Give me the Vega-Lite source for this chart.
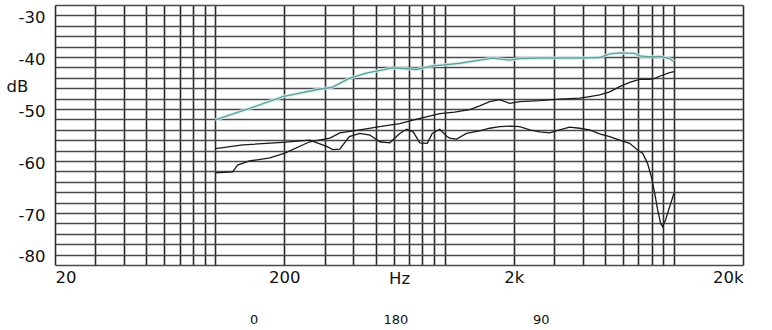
{
  "$schema": "https://vega.github.io/schema/vega-lite/v6.json",
  "width": 688,
  "height": 260,
  "autosize": {"type": "none"},
  "padding": {"left": 55, "top": 5, "right": 29, "bottom": 65},
  "background": "white",
  "config": {"view": {"stroke": null}, "font": "DejaVu Sans"},
  "data": {"values": [
    {"s":"0","f":100,"db":-52.1},{"s":"0","f":141,"db":-49.9},{"s":"0","f":197,"db":-47.6},{"s":"0","f":276,"db":-46.3},{"s":"0","f":325,"db":-45.8},{"s":"0","f":384,"db":-44.1},{"s":"0","f":455,"db":-43.1},{"s":"0","f":594,"db":-42.1},{"s":"0","f":754,"db":-42.4},{"s":"0","f":883,"db":-41.7},{"s":"0","f":1000,"db":-41.5},{"s":"0","f":1163,"db":-41.2},{"s":"0","f":1422,"db":-40.6},{"s":"0","f":1616,"db":-40.2},{"s":"0","f":1922,"db":-40.6},{"s":"0","f":2125,"db":-40.3},{"s":"0","f":2597,"db":-40.2},{"s":"0","f":3173,"db":-40.2},{"s":"0","f":3879,"db":-40.2},{"s":"0","f":4742,"db":-40.1},{"s":"0","f":5243,"db":-39.4},{"s":"0","f":5796,"db":-39.2},{"s":"0","f":6738,"db":-39.3},{"s":"0","f":7085,"db":-39.8},{"s":"0","f":7833,"db":-40.0},{"s":"0","f":8662,"db":-39.9},{"s":"0","f":9577,"db":-40.3},{"s":"0","f":10000,"db":-40.9},
    {"s":"90","f":100,"db":-62.3},{"s":"90","f":119,"db":-62.1},{"s":"90","f":125,"db":-60.8},{"s":"90","f":141,"db":-60.0},{"s":"90","f":173,"db":-59.4},{"s":"90","f":201,"db":-58.5},{"s":"90","f":258,"db":-56.3},{"s":"90","f":316,"db":-55.6},{"s":"90","f":349,"db":-54.6},{"s":"90","f":427,"db":-54.0},{"s":"90","f":521,"db":-53.4},{"s":"90","f":637,"db":-52.8},{"s":"90","f":780,"db":-51.8},{"s":"90","f":952,"db":-50.9},{"s":"90","f":1106,"db":-50.6},{"s":"90","f":1286,"db":-50.1},{"s":"90","f":1422,"db":-49.4},{"s":"90","f":1572,"db":-48.6},{"s":"90","f":1738,"db":-48.2},{"s":"90","f":1922,"db":-48.9},{"s":"90","f":2125,"db":-48.6},{"s":"90","f":2597,"db":-48.4},{"s":"90","f":3173,"db":-48.1},{"s":"90","f":3879,"db":-47.9},{"s":"90","f":4289,"db":-47.6},{"s":"90","f":4742,"db":-47.3},{"s":"90","f":5243,"db":-46.7},{"s":"90","f":5796,"db":-45.7},{"s":"90","f":6408,"db":-44.9},{"s":"90","f":7085,"db":-44.3},{"s":"90","f":7833,"db":-44.3},{"s":"90","f":8239,"db":-44.1},{"s":"90","f":8662,"db":-43.7},{"s":"90","f":9577,"db":-43.0},{"s":"90","f":10000,"db":-42.8},
    {"s":"180","f":100,"db":-57.6},{"s":"180","f":132,"db":-56.9},{"s":"180","f":197,"db":-56.4},{"s":"180","f":258,"db":-56.0},{"s":"180","f":306,"db":-57.2},{"s":"180","f":325,"db":-57.8},{"s":"180","f":349,"db":-57.7},{"s":"180","f":384,"db":-55.3},{"s":"180","f":427,"db":-54.7},{"s":"180","f":472,"db":-55.0},{"s":"180","f":521,"db":-56.3},{"s":"180","f":577,"db":-56.5},{"s":"180","f":637,"db":-54.7},{"s":"180","f":683,"db":-53.9},{"s":"180","f":729,"db":-54.4},{"s":"180","f":780,"db":-56.5},{"s":"180","f":840,"db":-56.6},{"s":"180","f":883,"db":-54.7},{"s":"180","f":952,"db":-53.9},{"s":"180","f":1024,"db":-55.3},{"s":"180","f":1052,"db":-55.6},{"s":"180","f":1128,"db":-55.8},{"s":"180","f":1245,"db":-54.7},{"s":"180","f":1422,"db":-54.2},{"s":"180","f":1572,"db":-53.7},{"s":"180","f":1738,"db":-53.4},{"s":"180","f":1922,"db":-53.3},{"s":"180","f":2125,"db":-53.4},{"s":"180","f":2350,"db":-54.0},{"s":"180","f":2597,"db":-54.4},{"s":"180","f":2872,"db":-54.6},{"s":"180","f":3173,"db":-54.0},{"s":"180","f":3509,"db":-53.5},{"s":"180","f":3879,"db":-53.7},{"s":"180","f":4289,"db":-54.0},{"s":"180","f":4742,"db":-54.8},{"s":"180","f":5243,"db":-55.3},{"s":"180","f":5796,"db":-56.0},{"s":"180","f":6408,"db":-56.6},{"s":"180","f":6942,"db":-57.9},{"s":"180","f":7300,"db":-58.5},{"s":"180","f":7676,"db":-60.5},{"s":"180","f":7996,"db":-63.3},{"s":"180","f":8239,"db":-66.2},{"s":"180","f":8489,"db":-69.4},{"s":"180","f":8750,"db":-72.0},{"s":"180","f":8927,"db":-72.6},{"s":"180","f":9198,"db":-71.3},{"s":"180","f":9577,"db":-68.8},{"s":"180","f":10000,"db":-66.2}
  ]},
  "encoding": {
    "x": {
      "field": "f", "type": "quantitative",
      "scale": {"type": "log", "domain": [20, 20000], "nice": false},
      "axis": {
        "values": [20,30,40,50,60,70,80,90,100,200,300,400,500,600,700,800,900,1000,2000,3000,4000,5000,6000,7000,8000,9000,10000,20000],
        "labelExpr": "datum.value == 20 ? '20' : datum.value == 200 ? '200' : datum.value == 2000 ? '2k' : datum.value == 20000 ? '20k' : ''",
        "grid": true, "gridColor": "#2a2a2a", "gridWidth": 1.6, "gridOpacity": 1,
        "domain": false, "ticks": false,
        "labelFlush": true, "labelOverlap": false, "labelAngle": 0,
        "labelFontSize": 16.5, "labelColor": "#111", "labelPadding": 4, "labelFont": "DejaVu Sans",
        "title": "Hz", "titleX": 344, "titleY": 13, "titleBaseline": "middle", "titleAlign": "center",
        "titleFontWeight": "normal", "titleFontSize": 16.5, "titleColor": "#111", "titleFont": "DejaVu Sans"
      }
    },
    "y": {
      "field": "db", "type": "quantitative",
      "scale": {"domain": [-80, -30], "nice": false, "zero": false},
      "axis": {
        "values": [-80,-78,-76,-74,-72,-70,-68,-66,-64,-62,-60,-58,-56,-54,-52,-50,-48,-46,-44,-42,-40,-38,-36,-34,-32,-30],
        "labelExpr": "datum.value % 10 == 0 ? '' + datum.value : ''",
        "grid": true, "gridColor": "#4a4a4a", "gridWidth": 1.6, "gridOpacity": 1,
        "domain": false, "ticks": false,
        "labelFlush": false, "labelOverlap": false,
        "labelFontSize": 16.5, "labelColor": "#111", "labelPadding": 10, "labelFont": "DejaVu Sans",
        "labelBaseline": "middle",
        "labelOffset": {"condition": [{"test": "datum.value == -30", "value": 12}, {"test": "datum.value == -80", "value": -9}], "value": 2},
        "title": "dB", "titleAngle": 0, "titleX": -38, "titleY": 81, "titleAlign": "center", "titleBaseline": "middle",
        "titleFontWeight": "normal", "titleFontSize": 16.5, "titleColor": "#111", "titleFont": "DejaVu Sans"
      }
    }
  },
  "layer": [
    {
      "transform": [{"filter": "datum.s == '0'"}],
      "mark": {"type": "line", "stroke": "#d2eef0", "strokeWidth": 3.5, "opacity": 0.8}
    },
    {
      "mark": {"type": "line", "strokeWidth": 1.3},
      "encoding": {
        "color": {
          "field": "s", "type": "nominal",
          "scale": {"domain": ["0", "180", "90"], "range": ["#5e9f98", "#1a1a1a", "#1a1a1a"]},
          "legend": {
            "title": null, "orient": "none", "legendX": 182, "legendY": 308,
            "direction": "horizontal", "symbolOpacity": 0, "symbolSize": 0, "symbolStrokeWidth": 0,
            "labelOffset": 0, "columnPadding": 111.5, "gridAlign": "each", "padding": 0,
            "labelFontSize": 13, "labelFont": "DejaVu Sans", "labelColor": "#111"
          }
        }
      }
    }
  ]
}
